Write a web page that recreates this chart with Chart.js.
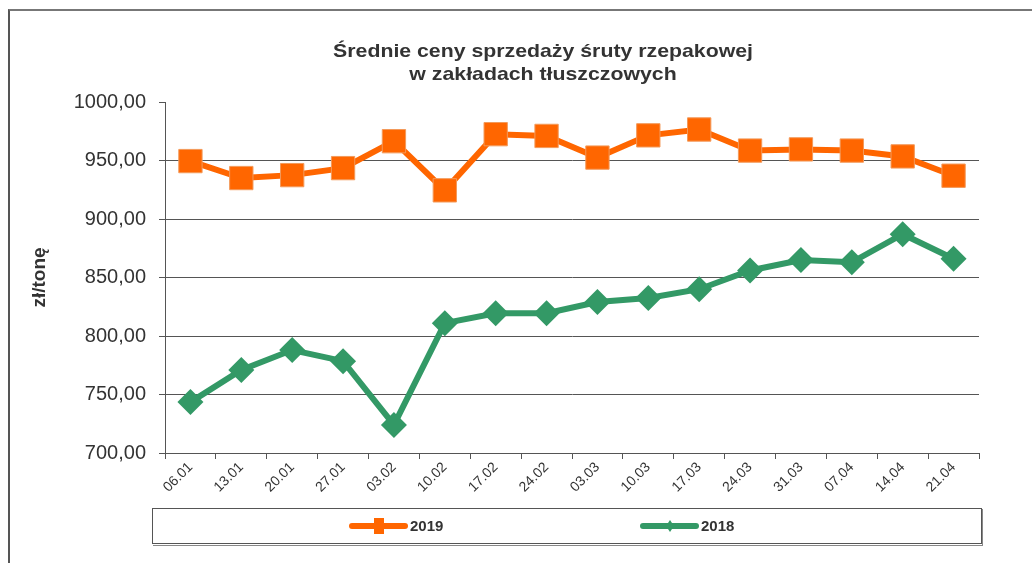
<!DOCTYPE html>
<html>
<head>
<meta charset="utf-8">
<script src="https://cdn.jsdelivr.net/npm/chart.js@4.4.1/dist/chart.umd.min.js"></script>
<style>
  body { margin: 0; background: #fff; }
  #wrap { position: relative; width: 1032px; height: 563px; }
  #frame { position: absolute; left: 8px; top: 9px; right: -2px; bottom: -2px; border-top: 2px solid #777; border-left: 2px solid #555; }
  canvas { position: absolute; left: 0; top: 0; }
</style>
</head>
<body>
<div id="wrap">
  <div id="frame"></div>
  <canvas id="chart" width="1032" height="563"></canvas>
</div>
<script>
const weeks = ['06.01', '13.01', '20.01', '27.01', '03.02', '10.02', '17.02', '24.02',
               '03.03', '10.03', '17.03', '24.03', '31.03', '07.04', '14.04', '21.04'];
const prices2019 = [949.5, 935, 937.5, 943.5, 966.5, 924.5, 972.5, 971, 952.5, 971.5, 976.5, 958.5, 959.5, 958.5, 953.5, 937];
const prices2018 = [743.5, 771, 788, 778.5, 724, 811, 819.5, 819.5, 829, 832.5, 840, 856, 865, 863, 887, 866];
const titleLines = ['Średnie ceny sprzedaży śruty rzepakowej', 'w zakładach tłuszczowych'];
const yLabel = 'zł/tonę';

const fontFamily = '"Liberation Sans", Arial, sans-serif';
const orange = '#ff6600';
const green = '#339966';

// title and boxed legend drawn by hand, Excel style
const decorations = {
    id: 'decorations',
    afterDraw(chart) {
        const ctx = chart.ctx;
        ctx.save();
        ctx.fillStyle = '#333';
        ctx.font = 'bold 19px ' + fontFamily;
        ctx.textAlign = 'center';
        ctx.textBaseline = 'middle';
        // the original text is a bit wide, stretch it
        ctx.save();
        ctx.translate(543, 0);
        ctx.scale(1.12, 1);
        ctx.fillText(titleLines[0], 0, 52);
        ctx.fillText(titleLines[1], 0, 75);
        ctx.restore();

        // legend box
        ctx.fillStyle = '#fff';
        ctx.fillRect(152, 508, 830, 36);
        ctx.strokeStyle = '#555';
        ctx.lineWidth = 1;
        ctx.strokeRect(152.5, 508.5, 829, 35);
        ctx.strokeStyle = '#888';
        ctx.beginPath();
        ctx.moveTo(153, 545.5); ctx.lineTo(983, 545.5);
        ctx.moveTo(982.5, 509); ctx.lineTo(982.5, 545);
        ctx.stroke();

        const starts = [352, 643];
        chart.data.datasets.forEach((ds, i) => {
            const x = starts[i], y = 526;
            ctx.strokeStyle = ds.borderColor;
            ctx.lineWidth = 6;
            ctx.lineCap = 'round';
            ctx.beginPath();
            ctx.moveTo(x, y); ctx.lineTo(x + 53, y);
            ctx.stroke();
            ctx.fillStyle = ds.borderColor;
            ctx.beginPath();
            if (ds.pointStyle === 'rect') {
                ctx.rect(x + 22, y - 8, 10, 16);
            } else {
                ctx.moveTo(x + 27, y - 6); ctx.lineTo(x + 31, y);
                ctx.lineTo(x + 27, y + 6); ctx.lineTo(x + 23, y);
                ctx.closePath();
            }
            ctx.fill();
            ctx.fillStyle = '#333';
            ctx.font = 'bold 15px ' + fontFamily;
            ctx.textAlign = 'left';
            ctx.fillText(ds.label, x + 58, y + 1);
        });
        ctx.restore();
    }
};

new Chart(document.getElementById('chart'), {
    type: 'line',
    data: {
        labels: weeks,
        datasets: [{
            label: '2019',
            data: prices2019,
            borderColor: orange,
            backgroundColor: orange,
            borderWidth: 6,
            pointStyle: 'rect',
            pointRadius: 16.5,
            pointHoverRadius: 16.5,
            pointBorderWidth: 1,
            pointBorderColor: '#f39a5a',
            tension: 0
        }, {
            label: '2018',
            data: prices2018,
            borderColor: green,
            backgroundColor: green,
            borderWidth: 6,
            pointStyle: 'rectRot',
            pointRadius: 13,
            pointHoverRadius: 13,
            pointBorderWidth: 0,
            tension: 0
        }]
    },
    options: {
        responsive: false,
        animation: false,
        layout: { padding: { left: 28, top: 102, right: 53, bottom: 0 } },
        plugins: {
            legend: { display: false },
            title: { display: false },
            tooltip: { enabled: false }
        },
        scales: {
            x: {
                offset: true,
                afterFit: scale => { scale.height = 110; },
                border: { color: '#555', width: 1 },
                grid: { drawOnChartArea: false, drawTicks: true, tickLength: 6, tickColor: '#555', offset: true },
                ticks: {
                    color: '#333',
                    font: { family: fontFamily, size: 14 },
                    minRotation: 45,
                    maxRotation: 45,
                    padding: 0
                }
            },
            y: {
                min: 700,
                max: 1000,
                afterFit: scale => { scale.width = 137; },
                border: { color: '#555', width: 1 },
                grid: {
                    color: ctx => ctx.tick && ctx.tick.value === 1000 ? 'rgba(0,0,0,0)' : '#555',
                    tickColor: '#555',
                    tickLength: 6
                },
                ticks: {
                    stepSize: 50,
                    color: '#333',
                    padding: 13,
                    font: { family: fontFamily, size: 20 },
                    callback: v => v.toFixed(2).replace('.', ',')
                },
                title: {
                    display: true,
                    text: yLabel,
                    color: '#333',
                    padding: 0,
                    font: { family: fontFamily, size: 19, weight: 'bold' }
                }
            }
        }
    },
    plugins: [decorations]
});
</script>
</body>
</html>
